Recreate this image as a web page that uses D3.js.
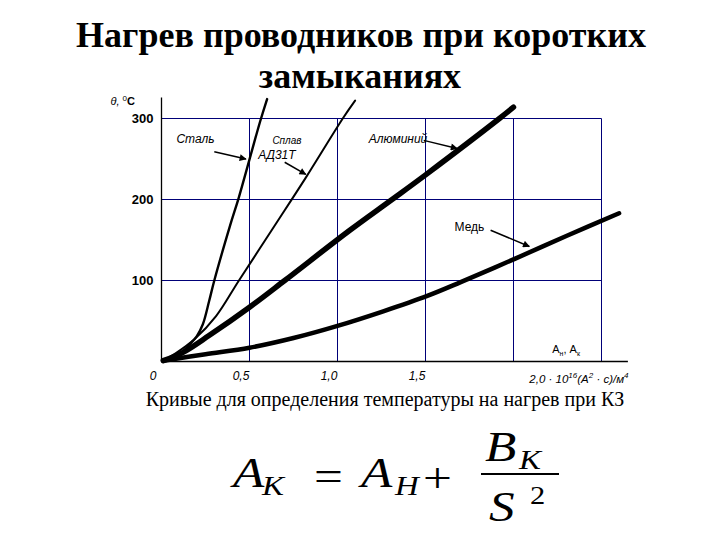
<!DOCTYPE html>
<html>
<head>
<meta charset="utf-8">
<script src="https://cdn.jsdelivr.net/npm/d3@7"></script>
<style>
  body { margin: 0; background: #fff; }
  svg { display: block; }
</style>
</head>
<body>
<div id="chart"></div>
<script>
// curves: specific action integral (x, 10^16 A^2 s / m^4) vs temperature (C)
var steelX  = [0.01, 0.06, 0.11, 0.155, 0.20, 0.235, 0.27, 0.30, 0.39, 0.44, 0.56, 0.60];
var steelT  = [1, 4, 10, 20, 31, 46, 74, 100, 168, 203, 296, 324];
var alloyX  = [0.01, 0.08, 0.19, 0.31, 0.44, 0.65, 0.82, 1.03, 1.10];
var alloyT  = [1, 10, 28, 56, 100, 170, 227, 300, 322];
var alumX   = [0.01, 0.12, 0.27, 0.50, 0.70, 1.07, 1.31, 1.51, 1.92, 2.00];
var alumT   = [1, 11, 32, 67, 100, 162, 200, 232, 300, 314];
var copperX = [0.01, 0.25, 0.50, 0.75, 1.00, 1.26, 1.51, 1.70, 2.01, 2.30, 2.60];
var copperT = [1, 9, 17, 29, 44, 62, 81, 98, 127, 155, 183];

var xTicks = [0, 0.5, 1.0, 1.5];
var xGrid = [0.5, 1.0, 1.5, 2.0, 2.5];
var yTicks = [100, 200, 300];

var W = 720, H = 540;
var margin = { top: 118, right: 119, bottom: 179, left: 161 },
    width = W - margin.left - margin.right,
    height = H - margin.top - margin.bottom;

var svg = d3.select("#chart")
    .append("svg")
    .attr("width", W)
    .attr("height", H);

var g = svg.append("g")
    .attr("transform", "translate(" + (margin.left + 0.5) + "," + (margin.top + 0.5) + ")");

var x = d3.scaleLinear().domain([0, 2.5]).range([0, width]);
var y = d3.scaleLinear().domain([0, 300]).range([height, 0]);

var navy = "#000078";
var sans = "'Liberation Sans', Arial, sans-serif";
var serif = "'Liberation Serif', 'Times New Roman', serif";

// grid
g.selectAll(".vgrid")
    .data(xGrid)
    .enter().append("line")
    .attr("x1", function (d) { return Math.round(x(d)); })
    .attr("x2", function (d) { return Math.round(x(d)); })
    .attr("y1", y(0))
    .attr("y2", y(300))
    .attr("stroke", navy)
    .attr("stroke-width", 1);

g.selectAll(".hgrid")
    .data(yTicks)
    .enter().append("line")
    .attr("x1", x(0))
    .attr("x2", x(2.5))
    .attr("y1", function (d) { return Math.round(y(d)); })
    .attr("y2", function (d) { return Math.round(y(d)); })
    .attr("stroke", navy)
    .attr("stroke-width", 1);

// axes
g.append("line")
    .attr("x1", x(0)).attr("x2", x(0))
    .attr("y1", y(0)).attr("y2", y(326))
    .attr("stroke", "#000").attr("stroke-width", 1.3);

g.append("line")
    .attr("x1", x(0)).attr("x2", x(2.65))
    .attr("y1", y(0)).attr("y2", y(0))
    .attr("stroke", "#000").attr("stroke-width", 1.3);

var yAxis = g.append("g")
    .call(d3.axisLeft(y).tickValues(yTicks).tickSize(0).tickPadding(8))
    .call(function (s) { s.select(".domain").remove(); });
yAxis.selectAll("text")
    .attr("font-family", sans)
    .attr("font-size", 13)
    .attr("font-weight", "bold")
    .attr("fill", "#000");

var xAxis = g.append("g")
    .attr("transform", "translate(0," + height + ")")
    .call(d3.axisBottom(x).tickValues(xTicks).tickSize(0).tickPadding(10)
        .tickFormat(function (d) { return d === 0 ? "0" : d3.format(".1f")(d).replace(".", ","); }))
    .call(function (s) { s.select(".domain").remove(); });
xAxis.selectAll("text")
    .attr("dx", -9)
    .attr("font-family", sans)
    .attr("font-size", 12)
    .attr("font-style", "italic")
    .attr("fill", "#000");

// unit label on x axis
var unit = g.append("text")
    .attr("x", x(2.09))
    .attr("y", height + 21)
    .attr("font-family", sans)
    .attr("font-size", 11.5)
    .attr("font-style", "italic");
unit.append("tspan").text("2,0 · 10");
unit.append("tspan").attr("dy", -5).attr("font-size", 8).text("16");
unit.append("tspan").attr("dy", 5).text("(A");
unit.append("tspan").attr("dy", -5).attr("font-size", 8).text("2");
unit.append("tspan").attr("dy", 5).text(" · c)/м");
unit.append("tspan").attr("dy", -5).attr("font-size", 8).text("4");

var an = g.append("text")
    .attr("x", x(2.22))
    .attr("y", height - 9)
    .attr("font-family", sans)
    .attr("font-size", 11);
an.append("tspan").text("A");
an.append("tspan").attr("dy", 3).attr("font-size", 7).text("н");
an.append("tspan").attr("dy", -3).text(", A");
an.append("tspan").attr("dy", 3).attr("font-size", 7).text("к");

// y axis label
var yl = g.append("text")
    .attr("x", -51)
    .attr("y", -14)
    .attr("font-family", sans)
    .attr("font-size", 11);
yl.append("tspan").attr("font-style", "italic").text("θ, ");
yl.append("tspan").attr("dy", -4).attr("font-size", 8).text("0");
yl.append("tspan").attr("dy", 4).attr("font-weight", "bold").text("C");

// curves
function series(xs, ts) {
    return xs.map(function (d, i) { return { x: d, t: ts[i] }; });
}
var line = d3.line()
    .x(function (d) { return x(d.x); })
    .y(function (d) { return y(d.t); })
    .curve(d3.curveCatmullRom.alpha(0.5));

var curves = [
    { data: series(steelX, steelT), w: 2.4 },
    { data: series(alloyX, alloyT), w: 2 },
    { data: series(alumX, alumT), w: 5.5 },
    { data: series(copperX, copperT), w: 4.5 }
];
curves.forEach(function (c) {
    g.append("path")
        .datum(c.data)
        .attr("fill", "none")
        .attr("stroke", "#000")
        .attr("stroke-width", c.w)
        .attr("stroke-linecap", "round")
        .attr("d", line);
});

// annotations
svg.append("defs").append("marker")
    .attr("id", "arr")
    .attr("viewBox", "0 0 10 10")
    .attr("refX", 9).attr("refY", 5)
    .attr("markerWidth", 9).attr("markerHeight", 7)
    .attr("markerUnits", "userSpaceOnUse")
    .attr("orient", "auto")
    .append("path")
    .attr("d", "M0,0 L10,5 L0,10 z")
    .attr("fill", "#000");

var arrows = [
    { x1: 0.30, t1: 259, x2: 0.48, t2: 250 },
    { x1: 0.70, t1: 246, x2: 0.82, t2: 231 },
    { x1: 1.49, t1: 273, x2: 1.68, t2: 263 },
    { x1: 1.87, t1: 162, x2: 2.09, t2: 142 }
];
g.selectAll(".arrow")
    .data(arrows)
    .enter().append("line")
    .attr("x1", function (d) { return x(d.x1); })
    .attr("y1", function (d) { return y(d.t1); })
    .attr("x2", function (d) { return x(d.x2); })
    .attr("y2", function (d) { return y(d.t2); })
    .attr("stroke", "#000")
    .attr("stroke-width", 1.5)
    .attr("marker-end", "url(#arr)");

var labels = [
    { text: "Сталь", x: 0.085, t: 270, size: 12, italic: true },
    { text: "Сплав", x: 0.63, t: 268, size: 10, italic: true },
    { text: "АД31Т", x: 0.55, t: 250, size: 12, italic: true },
    { text: "Алюминий", x: 1.177, t: 270, size: 12, italic: true },
    { text: "Медь", x: 1.665, t: 161, size: 12, italic: false }
];
g.selectAll(".lbl")
    .data(labels)
    .enter().append("text")
    .attr("x", function (d) { return x(d.x); })
    .attr("y", function (d) { return y(d.t); })
    .attr("font-family", sans)
    .attr("font-size", function (d) { return d.size; })
    .attr("font-style", function (d) { return d.italic ? "italic" : "normal"; })
    .text(function (d) { return d.text; });

// title
svg.append("text")
    .attr("x", 361).attr("y", 47)
    .attr("text-anchor", "middle")
    .attr("font-family", serif)
    .attr("font-weight", "bold")
    .attr("font-size", 36)
    .text("Нагрев проводников при коротких");
svg.append("text")
    .attr("x", 360).attr("y", 88)
    .attr("text-anchor", "middle")
    .attr("font-family", serif)
    .attr("font-weight", "bold")
    .attr("font-size", 36)
    .text("замыканиях");

// caption
svg.append("text")
    .attr("x", 385).attr("y", 406)
    .attr("text-anchor", "middle")
    .attr("font-family", serif)
    .attr("font-size", 20)
    .text("Кривые для определения температуры на нагрев при КЗ");

// formula (glyphs are drawn a bit wider than the font, as in the picture)
var f = svg.append("g")
    .attr("font-family", serif);
function ft(tx, ty, s, size, italic) {
    f.append("text")
        .attr("transform", "translate(" + tx + "," + ty + ") scale(1.22,1)")
        .attr("font-size", size)
        .attr("font-style", italic ? "italic" : "normal")
        .text(s);
}
ft(233, 487, "A", 42, true);
ft(262, 495, "К", 27, true);
ft(314, 490, "=", 42, false);
ft(361, 487, "A", 42, true);
ft(395, 495, "Н", 27, true);
ft(423, 492, "+", 42, false);
ft(485, 461, "B", 42, true);
ft(519, 469, "К", 27, true);
ft(489, 521, "S", 42, true);
ft(530, 504, "2", 25, false);
f.append("line")
    .attr("x1", 481).attr("x2", 559)
    .attr("y1", 474).attr("y2", 474)
    .attr("stroke", "#000")
    .attr("stroke-width", 2);
</script>
</body>
</html>
